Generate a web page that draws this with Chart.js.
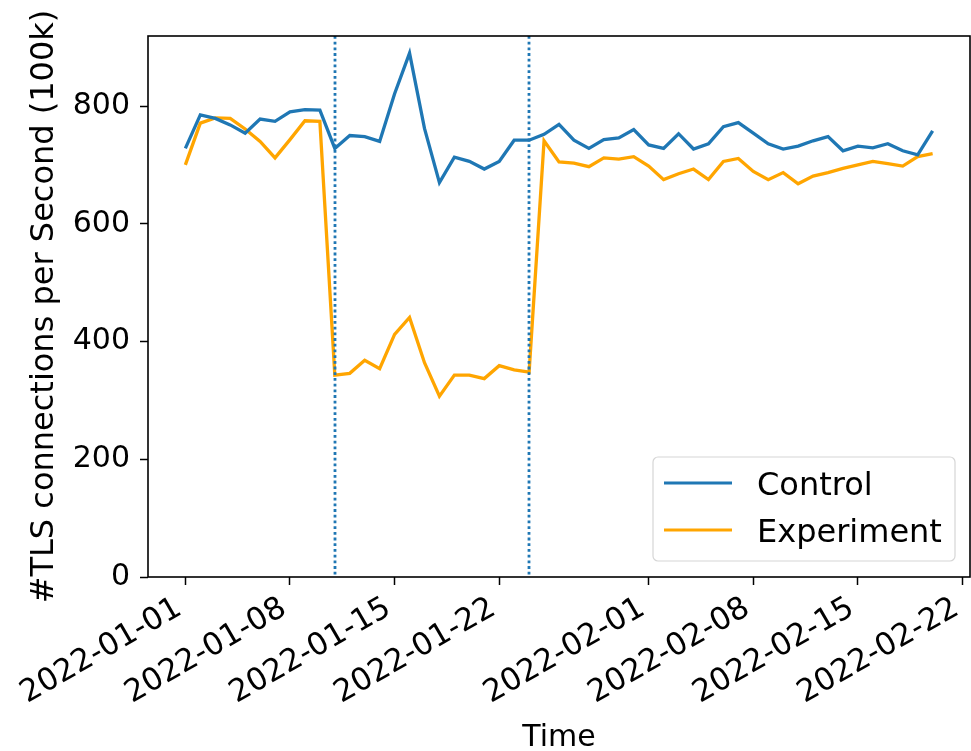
<!DOCTYPE html>
<html>
<head>
<meta charset="utf-8">
<script src="https://cdn.jsdelivr.net/npm/chart.js@4.4.1/dist/chart.umd.min.js"></script>
<style>
  html, body { margin: 0; padding: 0; background: #ffffff; }
  canvas { display: block; }
</style>
</head>
<body>
<canvas id="c" width="971" height="751"></canvas>
<script>
// ---- Data ----
const dates = [
  '2022-01-01','2022-01-02','2022-01-03','2022-01-04','2022-01-05','2022-01-06','2022-01-07',
  '2022-01-08','2022-01-09','2022-01-10','2022-01-11','2022-01-12','2022-01-13','2022-01-14',
  '2022-01-15','2022-01-16','2022-01-17','2022-01-18','2022-01-19','2022-01-20','2022-01-21',
  '2022-01-22','2022-01-23','2022-01-24','2022-01-25','2022-01-26','2022-01-27','2022-01-28',
  '2022-01-29','2022-01-30','2022-01-31','2022-02-01','2022-02-02','2022-02-03','2022-02-04',
  '2022-02-05','2022-02-06','2022-02-07','2022-02-08','2022-02-09','2022-02-10','2022-02-11',
  '2022-02-12','2022-02-13','2022-02-14','2022-02-15','2022-02-16','2022-02-17','2022-02-18',
  '2022-02-19','2022-02-20'
];
const controlValues = [
  728, 785, 779, 768, 754, 778, 774, 790, 794, 793,
  728, 750, 748, 740, 821, 890, 762, 670, 713, 706,
  693, 706, 742, 742, 752, 769, 742, 728, 743, 746,
  760, 734, 728, 753, 727, 736, 765, 772, 754, 736,
  727, 732, 741, 748, 724, 732, 729, 736, 724, 717, 758
];
const experimentValues = [
  700, 771, 780, 779, 761, 740, 712, 743, 775, 774,
  343, 346, 368, 354, 412, 441, 364, 307, 343, 343,
  337, 359, 352, 348, 741, 705, 703, 697, 712, 710,
  714, 698, 675, 685, 693, 675, 706, 711, 689, 675,
  687, 668, 681, 687, 694, 700, 706, 702, 698, 714, 719
];
const seriesLabels = ['Control', 'Experiment'];
const xTickLabels = ['2022-01-01','2022-01-08','2022-01-15','2022-01-22','2022-02-01','2022-02-08','2022-02-15','2022-02-22'];
const yTickValues = [0, 200, 400, 600, 800];
const markerDates = ['2022-01-11', '2022-01-24'];

// ---- helpers ----
const FONT = "'DejaVu Sans', 'Liberation Sans', sans-serif";
const BLUE = '#1f77b4';
const ORANGE = '#FFA500';
function dayOf(s) {
  const [y, m, d] = s.split('-').map(Number);
  return (Date.UTC(y, m - 1, d) - Date.UTC(2022, 0, 1)) / 86400000;
}
const toPoints = vals => dates.map((d, i) => ({ x: dayOf(d), y: vals[i] }));
const firstDay = dayOf(dates[0]);
const lastDay = dayOf(dates[dates.length - 1]);
const xMargin = (lastDay - firstDay) * 0.05;

const decorPlugin = {
  id: 'decor',
  afterDatasetsDraw(chart) {
    const { ctx, chartArea: a, scales: { x } } = chart;
    ctx.save();
    ctx.beginPath();
    ctx.rect(a.left, a.top, a.right - a.left, a.bottom - a.top);
    ctx.clip();
    ctx.strokeStyle = BLUE;
    ctx.lineWidth = 2.8;
    ctx.setLineDash([2.8, 2.9]);
    markerDates.forEach(s => {
      const px = Math.round(x.getPixelForValue(dayOf(s)));
      ctx.beginPath();
      ctx.moveTo(px, a.top);
      ctx.lineTo(px, a.bottom);
      ctx.stroke();
    });
    ctx.restore();
  },
  afterDraw(chart) {
    const { ctx, chartArea: a } = chart;
    ctx.save();
    // frame
    ctx.strokeStyle = '#000';
    ctx.lineWidth = 1.6;
    ctx.strokeRect(a.left, a.top, a.right - a.left, a.bottom - a.top);
    // legend
    const bx = 653, by = 457, bw = 302, bh = 104, r = 5;
    ctx.beginPath();
    ctx.moveTo(bx + r, by);
    ctx.arcTo(bx + bw, by, bx + bw, by + bh, r);
    ctx.arcTo(bx + bw, by + bh, bx, by + bh, r);
    ctx.arcTo(bx, by + bh, bx, by, r);
    ctx.arcTo(bx, by, bx + bw, by, r);
    ctx.closePath();
    ctx.fillStyle = 'rgba(255,255,255,0.8)';
    ctx.fill();
    ctx.strokeStyle = '#d6d6d6';
    ctx.lineWidth = 1.2;
    ctx.stroke();
    const rows = [{ y: 483, c: BLUE }, { y: 530, c: ORANGE }];
    ctx.font = '32px ' + FONT;
    ctx.textAlign = 'left';
    ctx.textBaseline = 'alphabetic';
    rows.forEach((row, i) => {
      ctx.strokeStyle = row.c;
      ctx.lineWidth = 3.2;
      ctx.beginPath();
      ctx.moveTo(664, row.y);
      ctx.lineTo(732, row.y);
      ctx.stroke();
      ctx.fillStyle = '#000';
      ctx.fillText(chart.data.datasets[i].label, 757, row.y + 12);
    });
    ctx.restore();
  }
};

new Chart(document.getElementById('c'), {
  type: 'line',
  data: {
    datasets: [
      { label: seriesLabels[0], data: toPoints(controlValues), borderColor: BLUE, backgroundColor: BLUE,
        borderWidth: 3.3, pointRadius: 0, tension: 0, fill: false },
      { label: seriesLabels[1], data: toPoints(experimentValues), borderColor: ORANGE, backgroundColor: ORANGE,
        borderWidth: 3.3, pointRadius: 0, tension: 0, fill: false }
    ]
  },
  options: {
    responsive: false,
    devicePixelRatio: 1,
    animation: false,
    layout: { autoPadding: false, padding: { top: 36, right: 1, left: 0, bottom: 0 } },
    plugins: { legend: { display: false }, tooltip: { enabled: false } },
    scales: {
      x: {
        type: 'linear',
        min: firstDay - xMargin,
        max: lastDay + xMargin,
        afterBuildTicks: s => { s.ticks = xTickLabels.map(l => ({ value: dayOf(l) })); },
        afterFit: s => { s.height = 174; s.paddingLeft = 0; s.paddingRight = 0; },
        ticks: {
          autoSkip: false,
          maxRotation: 30, minRotation: 30,
          padding: 5,
          labelOffset: -6,
          color: '#000',
          font: { family: FONT, size: 31 },
          callback: v => { const i = xTickLabels.findIndex(l => dayOf(l) === v); return i >= 0 ? xTickLabels[i] : ''; }
        },
        grid: { display: true, drawOnChartArea: false, drawTicks: true, tickLength: 8, tickWidth: 1.5, tickColor: '#000', color: '#000' },
        border: { display: false },
        title: { display: true, text: 'Time', color: '#000', font: { family: FONT, size: 30, lineHeight: 0.8 }, padding: { top: 0, bottom: 1 } }
      },
      y: {
        type: 'linear',
        min: 0,
        max: 919,
        afterBuildTicks: s => { s.ticks = yTickValues.map(v => ({ value: v })); },
        afterFit: s => { s.width = 148; s.paddingTop = 0; s.paddingBottom = 0; },
        ticks: {
          padding: 10,
          color: '#000',
          font: { family: FONT, size: 30 }
        },
        grid: { display: true, drawOnChartArea: false, drawTicks: true, tickLength: 8, tickWidth: 1.5, tickColor: '#000', color: '#000' },
        border: { display: false },
        title: { display: true, text: '#TLS connections per Second (100k)', color: '#000', font: { family: FONT, size: 32, lineHeight: 1.2 }, padding: { top: 25, bottom: 0 } }
      }
    }
  },
  plugins: [decorPlugin]
});
</script>
</body>
</html>
